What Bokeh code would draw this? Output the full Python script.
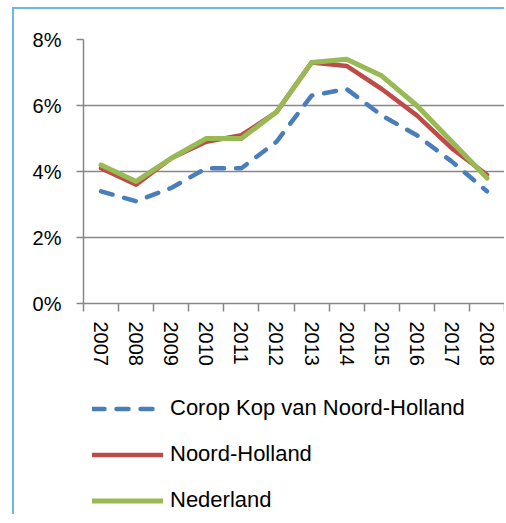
from bokeh.plotting import figure
from bokeh.models import FixedTicker, Legend, LegendItem, ColumnDataSource, Range1d
from bokeh.layouts import column
from bokeh.embed import file_html
from bokeh.resources import INLINE

years = ["2007", "2008", "2009", "2010", "2011", "2012", "2013", "2014", "2015", "2016", "2017", "2018"]
kop = [3.4, 3.1, 3.5, 4.1, 4.1, 4.9, 6.3, 6.5, 5.7, 5.1, 4.3, 3.4]
noord_holland = [4.1, 3.6, 4.4, 4.9, 5.1, 5.8, 7.3, 7.2, 6.5, 5.7, 4.7, 3.9]
nederland = [4.2, 3.7, 4.4, 5.0, 5.0, 5.8, 7.3, 7.4, 6.9, 6.0, 4.9, 3.8]
y_ticks = [0, 2, 4, 6, 8]
y_tick_labels = ["0%", "2%", "4%", "6%", "8%"]
series_names = ["Corop Kop van Noord-Holland", "Noord-Holland", "Nederland"]
series_cols = ["kop", "nh", "nl"]
series_colors = ["#4A7EBB", "#BE4B48", "#98B954"]
series_widths = [4.5, 4.5, 5]
series_dashes = ["12 12", "solid", "solid"]

xpos = [i + 0.5 for i in range(len(years))]
src = ColumnDataSource(dict(x=xpos, kop=kop, nh=noord_holland, nl=nederland))

FONT = "Liberation Sans"
GRID = "#878787"
FRAME_BLUE = "#6DB6E8"
W = 490

p = figure(width=W, height=362,
           min_border_left=69, min_border_top=30, min_border_right=0, min_border_bottom=68,
           x_range=Range1d(0, len(years)), y_range=Range1d(0, 8),
           output_backend="svg", toolbar_location=None)
p.outline_line_color = None
p.background_fill_color = "white"
p.border_fill_color = "white"

# y axis
p.yaxis.ticker = FixedTicker(ticks=y_ticks)
p.yaxis.major_label_overrides = {t: l for t, l in zip(y_ticks, y_tick_labels)}
p.yaxis.major_label_text_font = FONT
p.yaxis.major_label_text_font_size = "20px"
p.yaxis.major_label_text_color = "black"
p.yaxis.major_tick_out = 7
p.yaxis.major_tick_in = 0
p.yaxis.minor_tick_line_color = None
p.yaxis.axis_line_color = GRID
p.yaxis.axis_line_width = 1.5
p.yaxis.major_tick_line_color = GRID
p.yaxis.major_tick_line_width = 1.5
p.yaxis.major_label_standoff = 15

# x axis
p.xaxis.ticker = FixedTicker(ticks=xpos, minor_ticks=list(range(len(years) + 1)))
p.xaxis.major_label_overrides = {x: y for x, y in zip(xpos, years)}
p.xaxis.major_label_orientation = "vertical"
p.xaxis.major_label_text_font = FONT
p.xaxis.major_label_text_font_size = "20px"
p.xaxis.major_label_text_color = "black"
p.xaxis.major_tick_line_color = None
p.xaxis.major_tick_out = 8
p.xaxis.minor_tick_out = 8
p.xaxis.minor_tick_in = 0
p.xaxis.minor_tick_line_color = GRID
p.xaxis.minor_tick_line_width = 1.5
p.xaxis.axis_line_color = GRID
p.xaxis.axis_line_width = 1.5
p.xaxis.major_label_standoff = 10

p.xgrid.grid_line_color = None
p.ygrid.ticker = FixedTicker(ticks=y_ticks)
p.ygrid.grid_line_color = GRID
p.ygrid.grid_line_width = 1.5

for col, c, w, d in zip(series_cols, series_colors, series_widths, series_dashes):
    p.line("x", col, source=src, line_color=c, line_width=w, line_dash=d,
           line_cap="round", line_join="round")

# legend panel (second figure, below the chart); its lines lie outside its view
p2 = figure(width=W, height=143, min_border=0, x_range=Range1d(0, 1), y_range=Range1d(100, 101),
            x_axis_location=None, y_axis_location=None,
            output_backend="svg", toolbar_location=None)
p2.outline_line_color = None
p2.grid.grid_line_color = None
p2.background_fill_color = "white"
p2.border_fill_color = "white"
items = []
for name, col, c, w, d in zip(series_names, series_cols, series_colors, series_widths, series_dashes):
    r = p2.line("x", col, source=src, line_color=c, line_width=w, line_dash=d, line_cap="round")
    items.append(LegendItem(label=name, renderers=[r]))

legend = Legend(items=items, location=(9, 1), orientation="vertical",
                glyph_width=71, glyph_height=25, label_height=25, spacing=20,
                padding=0, margin=0, label_standoff=7,
                border_line_color=None, background_fill_alpha=0,
                label_text_font=FONT, label_text_font_size="22px", label_text_color="black")
p2.add_layout(legend, "center")

layout = column(p, p2, spacing=0, margin=(7, 0, 0, 12),
                styles={"border-left": f"2px solid {FRAME_BLUE}", "border-top": f"2px solid {FRAME_BLUE}"})

open("out.html", "w").write(file_html(layout, INLINE))
